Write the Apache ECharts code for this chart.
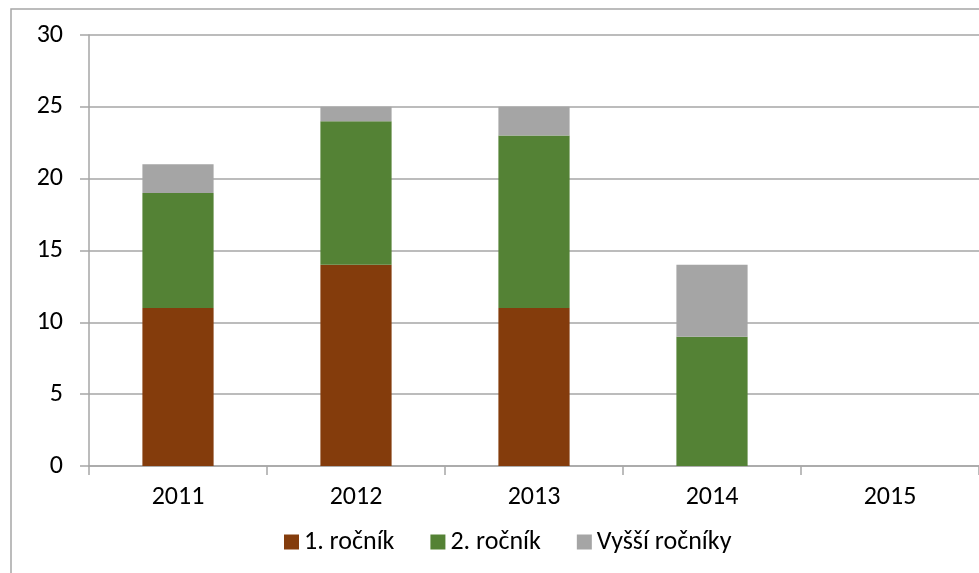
<!DOCTYPE html>
<html>
<head>
<meta charset="utf-8">
<script src="https://cdn.jsdelivr.net/npm/echarts@6/dist/echarts.min.js"></script>
<style>
    html, body { margin: 0; padding: 0; background: #fff; }
    #chart { width: 979px; height: 573px; }
</style>
</head>
<body>
<div id="chart"></div>
<script>
// kategorie (roky)
var years = ['2011', '2012', '2013', '2014', '2015'];
// hodnoty serii
var prvniRocnik = [11, 14, 11, 0, 0];
var druhyRocnik = [8, 10, 12, 9, 0];
var vyssiRocniky = [2, 1, 2, 5, 0];
// popisky osy y
var yTicks = [0, 5, 10, 15, 20, 25, 30];

var fontFamily = 'Carlito, "Open Sans", "Noto Sans", sans-serif';

var chart = echarts.init(document.getElementById('chart'));
var option = {
    animation: false,
    backgroundColor: '#fff',
    textStyle: { fontFamily: fontFamily },
    // ramecek grafu
    graphic: [{
        type: 'rect',
        shape: { x: 11, y: 9, width: 1100, height: 700 },
        style: { fill: 'none', stroke: '#a6a6a6', lineWidth: 1.5 },
        silent: true
    }],
    grid: { left: 89, right: -2, top: 35, bottom: 107 },
    legend: {
        bottom: 13,
        left: 279,
        itemWidth: 15,
        itemHeight: 15,
        itemGap: 36,
        icon: 'rect',
        textStyle: { fontSize: 26, color: '#000', fontFamily: fontFamily },
        data: ['1. ročník', '2. ročník', 'Vyšší ročníky']
    },
    xAxis: {
        type: 'category',
        data: years,
        axisLine: { lineStyle: { color: '#a6a6a6', width: 1.5 } },
        axisTick: { show: true, length: 9, lineStyle: { color: '#a6a6a6', width: 1.5 } },
        axisLabel: { fontSize: 26, color: '#000', margin: 18, fontFamily: fontFamily }
    },
    yAxis: {
        type: 'value',
        min: yTicks[0],
        max: yTicks[yTicks.length - 1],
        interval: 5,
        axisLine: { show: true, lineStyle: { color: '#a6a6a6', width: 1.5 } },
        axisTick: { show: true, length: 9, lineStyle: { color: '#a6a6a6', width: 1.5 } },
        splitLine: { lineStyle: { color: '#a6a6a6', width: 1.5 } },
        axisLabel: { fontSize: 26, color: '#000', margin: 26, fontFamily: fontFamily }
    },
    series: [
        {
            name: '1. ročník', type: 'bar', stack: 'a', barWidth: '40%',
            itemStyle: { color: '#843c0c' },
            data: prvniRocnik
        },
        {
            name: '2. ročník', type: 'bar', stack: 'a', barWidth: '40%',
            itemStyle: { color: '#548235' },
            data: druhyRocnik
        },
        {
            name: 'Vyšší ročníky', type: 'bar', stack: 'a', barWidth: '40%',
            itemStyle: { color: '#a5a5a5' },
            data: vyssiRocniky
        }
    ]
};
chart.setOption(option);
</script>
</body>
</html>
